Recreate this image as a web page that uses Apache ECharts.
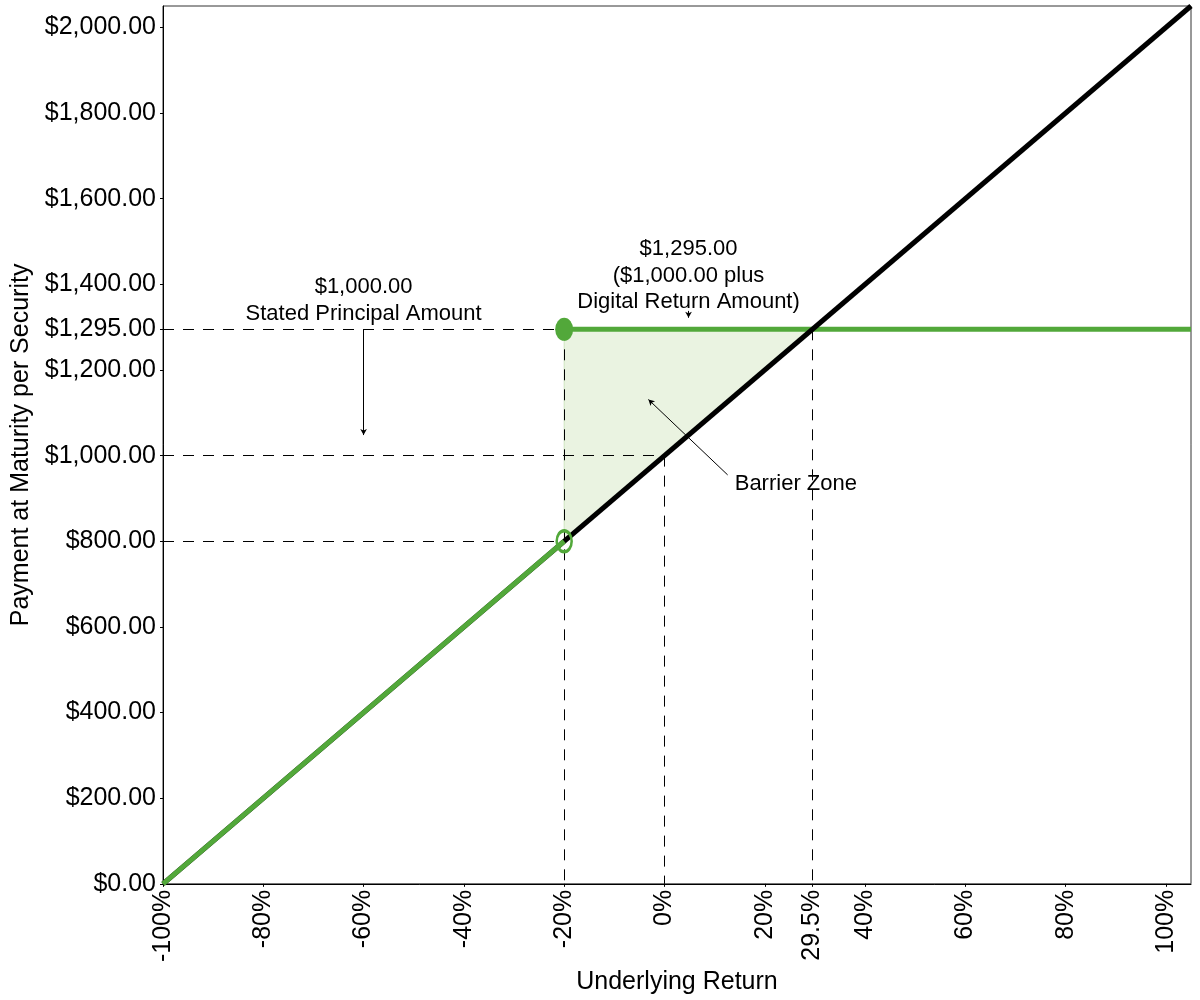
<!DOCTYPE html>
<html>
<head>
<meta charset="utf-8">
<script src="https://cdn.jsdelivr.net/npm/echarts@6/dist/echarts.min.js"></script>
<style>
html,body{margin:0;padding:0;background:#fff;}
#main{width:1200px;height:1000px;}
</style>
</head>
<body>
<div id="main"></div>
<script>
// ---- data ----
const xTicks = [-100, -80, -60, -40, -20, 0, 20, 29.5, 40, 60, 80, 100];
const yTicks = [0, 200, 400, 600, 800, 1000, 1200, 1295, 1400, 1600, 1800, 2000];
const underlyingLine = [[-100, 0], [105, 2050]];
const paymentLow = [[-100, 0], [-20, 800]];
const paymentCap = [[-20, 1295], [105, 1295]];
const barrierZone = [[-20, 800], [-20, 1295], [29.5, 1295]];
const filledPoint = [[-20, 1295]];
const openPoint = [[-20, 800]];
const guideLines = [
  [[-100, 1295], [-20, 1295]],
  [[-100, 1000], [0, 1000]],
  [[-100, 800], [-20, 800]],
  [[-20, 1295], [-20, 0]],
  [[0, 1000], [0, 0]],
  [[29.5, 1295], [29.5, 0]]
];
const annotationTexts = [
  '$1,000.00\nStated Principal Amount',
  '$1,295.00\n($1,000.00 plus\nDigital Return Amount)',
  'Barrier Zone'
];
const annotationAt = [[-60, 1362], [4.8, 1420], [26.2, 935]];
const arrows = [
  [[-60, 1295], [-60, 1048]],
  [[4.8, 1338], [4.8, 1322]],
  [[12.6, 955], [-3.2, 1131]]
];

const FONT = '"Liberation Sans", Arial, sans-serif';
const GREEN = '#52a83a';
const FILL = '#eaf3e1';

const chart = echarts.init(document.getElementById('main'), null, {renderer: 'canvas'});

const fmtMoney = v => '$' + Number(v).toLocaleString('en-US', {minimumFractionDigits: 2, maximumFractionDigits: 2});

const option = {
  animation: false,
  backgroundColor: '#fff',
  grid: {left: 163, right: 9, top: 6, bottom: 115, show: true, borderColor: '#333', borderWidth: 1, backgroundColor: 'transparent'},
  xAxis: {
    type: 'value', min: -100, max: 105,
    name: 'Underlying Return', nameLocation: 'middle', nameGap: 82,
    nameTextStyle: {fontSize: 25, color: '#000', fontFamily: FONT},
    axisLine: {show: true, onZero: false, lineStyle: {color: '#000', width: 1}},
    axisTick: {show: true, length: 3, lineStyle: {color: '#000'}, customValues: xTicks},
    axisLabel: {rotate: 90, fontSize: 25, color: '#000', fontFamily: FONT, margin: 6,
      customValues: xTicks, formatter: v => v + '%'},
    splitLine: {show: false}
  },
  yAxis: {
    type: 'value', min: 0, max: 2050,
    name: 'Payment at Maturity per Security', nameLocation: 'middle', nameGap: 121,
    nameTextStyle: {fontSize: 25, color: '#000', fontFamily: FONT},
    axisLine: {show: true, onZero: false, lineStyle: {color: '#000', width: 1}},
    axisTick: {show: true, length: 3, lineStyle: {color: '#000'}, customValues: yTicks},
    axisLabel: {fontSize: 25, color: '#000', fontFamily: FONT, margin: 7,
      customValues: yTicks, formatter: fmtMoney},
    splitLine: {show: false}
  },
  series: [
    {
      type: 'custom', name: 'Barrier Zone', z: 1,
      data: [0],
      renderItem: function (params, api) {
        const pts = barrierZone.map(p => api.coord(p));
        return {type: 'polygon', shape: {points: pts}, style: {fill: FILL, stroke: '#cfe5c0', lineWidth: 1}};
      },
      silent: true
    },
    {
      type: 'line', name: 'guides', z: 2, data: [], silent: true,
      markLine: {
        silent: true, symbol: ['none', 'none'], animation: false,
        label: {show: false},
        lineStyle: {color: '#000', width: 1, type: [11, 9]},
        data: guideLines.map(s => [{coord: s[0]}, {coord: s[1]}])
      }
    },
    {
      type: 'line', name: 'paymentCap', z: 3, data: paymentCap, showSymbol: false, silent: true,
      lineStyle: {color: GREEN, width: 5}
    },
    {
      type: 'line', name: 'underlying', z: 4, data: underlyingLine, showSymbol: false, silent: true,
      lineStyle: {color: '#000', width: 5}
    },
    {
      type: 'line', name: 'paymentLow', z: 5, data: paymentLow, showSymbol: false, silent: true,
      lineStyle: {color: GREEN, width: 5}
    },
    {
      type: 'scatter', name: 'filled', z: 6, data: filledPoint, symbol: 'circle', symbolSize: [18, 23], silent: true,
      itemStyle: {color: GREEN, opacity: 1}
    },
    {
      type: 'scatter', name: 'open', z: 6, data: openPoint, symbol: 'circle', symbolSize: [15, 21], silent: true,
      itemStyle: {color: 'rgba(0,0,0,0)', borderColor: GREEN, borderWidth: 3, opacity: 1}
    },
    {
      type: 'line', name: 'arrows', z: 7, data: [], silent: true,
      markLine: {
        silent: true, symbol: ['none', 'arrow'], symbolSize: [5, 6], animation: false,
        label: {show: false},
        lineStyle: {color: '#000', width: 1, type: 'solid'},
        data: arrows.map(s => [{coord: s[0]}, {coord: s[1]}])
      }
    },
    {
      type: 'scatter', name: 'annotations', z: 8, symbolSize: 0, silent: true,
      itemStyle: {opacity: 1},
      data: annotationTexts.map((t, i) => ({name: t, value: annotationAt[i]})),
      label: {show: true, position: 'inside', formatter: p => p.name, fontSize: 22, lineHeight: 26.5,
        color: '#000', opacity: 1, fontFamily: FONT, align: 'center', verticalAlign: 'middle'}
    }
  ]
};
chart.setOption(option);
</script>
</body>
</html>
